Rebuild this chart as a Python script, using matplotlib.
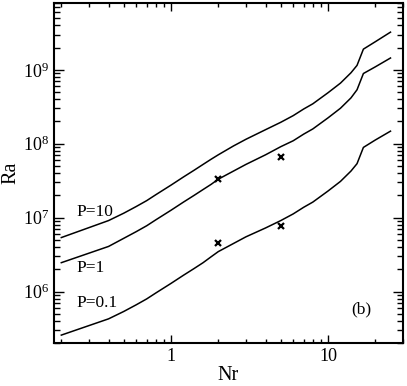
import numpy as np
import matplotlib
matplotlib.use("Agg")
import matplotlib.pyplot as plt
from matplotlib.ticker import FixedLocator, FixedFormatter, LogLocator, NullFormatter

plt.rcParams["font.family"] = "Liberation Serif"
plt.rcParams["mathtext.fontset"] = "stix"

# Nr grid shared by the three curves
nr = [0.2, 0.4, 0.5, 0.6, 0.7, 0.8, 1.0, 1.2, 1.4, 1.6, 1.8, 2.0, 2.5,
      3.0, 4.0, 5.0, 6.0, 7.0, 8.0, 10, 12, 14, 15.3, 16.8, 20, 25]

# log10(Ra)
log_ra_p10 = [6.73, 6.96, 7.06, 7.15, 7.23, 7.31, 7.44, 7.55, 7.64, 7.72, 7.79, 7.85, 7.97,
              8.06, 8.19, 8.29, 8.38, 8.47, 8.54, 8.69, 8.82, 8.96, 9.06, 9.28, 9.38, 9.51]
log_ra_p1 = [6.39, 6.61, 6.72, 6.81, 6.89, 6.97, 7.10, 7.21, 7.30, 7.38, 7.45, 7.52, 7.63,
             7.72, 7.85, 7.96, 8.04, 8.13, 8.20, 8.35, 8.48, 8.62, 8.73, 8.95, 9.04, 9.16]
log_ra_p01 = [5.41, 5.63, 5.73, 5.82, 5.90, 5.98, 6.11, 6.22, 6.31, 6.39, 6.47, 6.54, 6.65,
              6.74, 6.86, 6.96, 7.05, 7.14, 7.21, 7.36, 7.49, 7.63, 7.73, 7.95, 8.05, 8.17]

# individual points (crosses)
nr_pts = [2, 5, 2, 5]
ra_pts = [3.35e7, 6.7e7, 4.5e6, 7.6e6]

labels = ["P=10", "P=1", "P=0.1"]
label_ra = [1.2e7, 2.1e6, 6.9e5]

fig = plt.figure(figsize=(4.07, 3.86), dpi=100)
ax = fig.add_axes([0.133, 0.111, 0.857, 0.881])

for lra in (log_ra_p10, log_ra_p1, log_ra_p01):
    ax.plot(nr, 10 ** np.array(lra), color="black", lw=1.1)
ax.plot(nr_pts, ra_pts, ls="none", marker="x", color="black", ms=5, mew=1.6)

for lab, y in zip(labels, label_ra):
    ax.text(0.25, y, lab, fontsize=12.5, va="center", ha="left")
ax.text(16.4, 5.7e5, "(b)", fontsize=12.5, va="center", ha="center")

ax.set_xscale("log")
ax.set_yscale("log")
ax.set_xlim(0.18, 30)
ax.set_ylim(2e5, 8e9)

ax.xaxis.set_major_locator(FixedLocator([1, 10]))
ax.xaxis.set_major_formatter(FixedFormatter(["1", "10"]))
ax.xaxis.set_minor_locator(LogLocator(base=10, subs=np.arange(2, 10)))
ax.xaxis.set_minor_formatter(NullFormatter())
ax.yaxis.set_major_locator(LogLocator(base=10, numticks=20))
ax.yaxis.set_minor_locator(LogLocator(base=10, subs=np.arange(2, 10), numticks=20))
ax.yaxis.set_minor_formatter(NullFormatter())

ax.tick_params(which="both", direction="in", top=True, right=True, labelsize=13, width=1.0)
ax.tick_params(axis="x", which="major", length=6)
ax.tick_params(axis="x", which="minor", length=3)
ax.tick_params(axis="y", which="major", length=7)
ax.tick_params(axis="y", which="minor", length=4)
for sp in ax.spines.values():
    sp.set_linewidth(1.5)

ax.set_xlabel("Nr", fontsize=14.5, labelpad=1)
ax.set_ylabel("Ra", fontsize=14.5, labelpad=2)

fig.savefig("out.png", dpi=100)
